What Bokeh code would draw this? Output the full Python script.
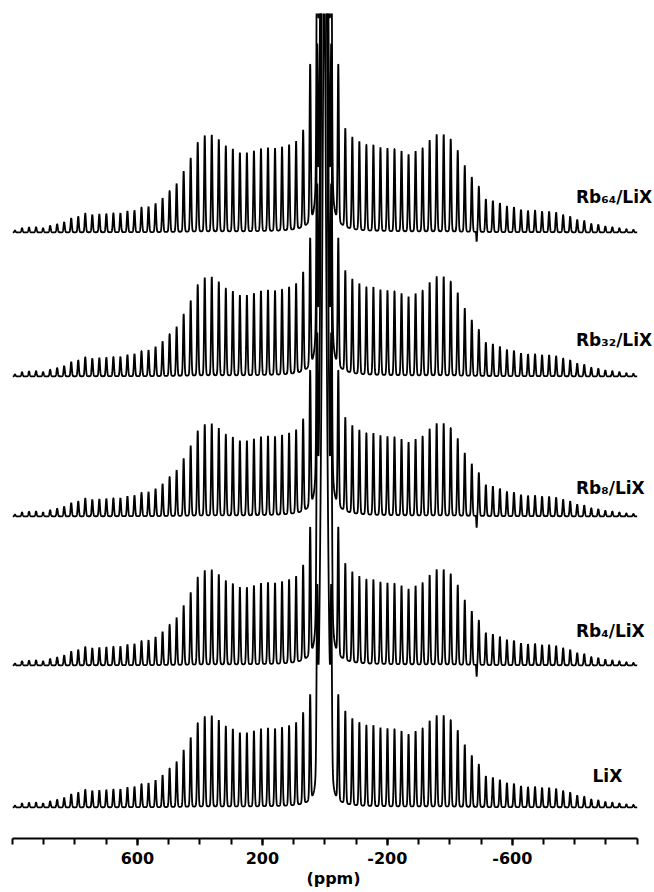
import numpy as np
from bokeh.plotting import figure
from bokeh.models import Range1d, FixedTicker, Label
from bokeh.embed import file_html
from bokeh.resources import INLINE

# ---------------- data ----------------
SAMPLES = ["LiX", "Rb₄/LiX", "Rb₈/LiX", "Rb₃₂/LiX", "Rb₆₄/LiX"]

# sideband spacing (ppm) and isotropic (central) shift
SIDEBAND_SPACING = 22.5
CENTER_SHIFT = 2.0

# sideband envelope heights, n = +3 ... +44 (left, positive ppm side)
ENV_POS = [97.7, 88.3, 86.0, 84.3, 83.3, 84.0, 83.3, 81.0, 79.3, 79.3,
           83.3, 86.3, 92.7, 97.3, 96.7, 90.0, 74.3, 61.0, 48.7, 41.7,
           34.3, 29.0, 25.7, 25.0, 22.0, 21.3, 19.3, 19.3, 18.7, 18.3,
           17.7, 19.0, 16.0, 14.3, 10.3, 8.3, 6.7, 4.3, 5.3, 5.0,
           4.3, 2.0]
# sideband envelope heights, n = -3 ... -44 (right, negative ppm side)
ENV_NEG = [99.3, 92.7, 89.3, 86.7, 86.7, 84.3, 83.7, 83.3, 81.0, 77.7,
           81.0, 84.3, 92.0, 97.7, 97.7, 93.3, 82.0, 66.7, 55.3, 46.0,
           33.3, 31.7, 29.3, 26.0, 25.3, 22.7, 21.7, 22.0, 21.0, 21.0,
           20.0, 17.7, 16.0, 12.7, 11.7, 8.7, 7.7, 6.0, 5.3, 4.3,
           3.3, 2.7]

ENV_SCALE = [0.94, 0.98, 0.95, 1.02, 1.00]
SB2_HEIGHT = [106, 128, 136, 128, 158]
SB1_HEIGHT = [160, 240, 240, 240, 280]
CENTER_HEIGHT = [450, 650, 650, 650, 650]
SKIRT_HEIGHT = [400, 600, 600, 600, 600]
GLITCH_PPM = -486.0
GLITCH_DEPTH = [0, 12, 12, 0, 10]

TICK_LABELS = [600, 200, -200, -600]
MINOR_TICKS = list(range(-1000, 1001, 100))

# ---------------- layout constants ----------------
STACK_OFFSETS = [31, 173, 322, 462, 606]
LABEL_X = [-857, -804, -804, -804, -804]
LABEL_Y = [63, 208, 351, 499, 642]

SB_SIGMA = 2.0       # gaussian part of sideband line (ppm)
SB_GAMMA = 2.0       # lorentzian part of sideband line (ppm)
SB_LFRAC = 0.15
CENTER_SIGMA = 10.0
SKIRT_GAMMA = 6.0
GLITCH_SIGMA = 1.0

ppm = np.arange(1000.0, -1000.0 - 0.01, -0.4)


def gau(x, x0, s):
    return np.exp(-0.5 * ((x - x0) / s) ** 2)


def lor(x, x0, g):
    return g * g / ((x - x0) ** 2 + g * g)


def line_shape(x, x0):
    return (1 - SB_LFRAC) * gau(x, x0, SB_SIGMA) + SB_LFRAC * lor(x, x0, SB_GAMMA)


def build(i):
    y = CENTER_HEIGHT[i] * gau(ppm, CENTER_SHIFT, CENTER_SIGMA)
    y = y + SKIRT_HEIGHT[i] * lor(ppm, CENTER_SHIFT, SKIRT_GAMMA)
    for n in (1, -1):
        y = y + SB1_HEIGHT[i] * line_shape(ppm, CENTER_SHIFT + n * SIDEBAND_SPACING)
    for n in (2, -2):
        y = y + SB2_HEIGHT[i] * line_shape(ppm, CENTER_SHIFT + n * SIDEBAND_SPACING)
    for k, h in enumerate(ENV_POS):
        n = k + 3
        y = y + ENV_SCALE[i] * h * line_shape(ppm, CENTER_SHIFT + n * SIDEBAND_SPACING)
    for k, h in enumerate(ENV_NEG):
        n = -(k + 3)
        y = y + ENV_SCALE[i] * h * line_shape(ppm, CENTER_SHIFT + n * SIDEBAND_SPACING)
    if GLITCH_DEPTH[i]:
        y = y - GLITCH_DEPTH[i] * gau(ppm, GLITCH_PPM, GLITCH_SIGMA)
    return y + STACK_OFFSETS[i]


p = figure(width=654, height=892, output_backend="svg", toolbar_location=None,
           x_range=Range1d(1000, -1055.4), y_range=Range1d(0, 825),
           y_axis_location=None,
           min_border_left=12, min_border_right=0, min_border_top=13,
           min_border_bottom=54)
p.grid.visible = False
p.outline_line_color = None
p.background_fill_color = "white"
p.border_fill_color = "white"

for i in range(len(SAMPLES)):
    p.line(ppm, build(i), line_color="black", line_width=1.8)
    p.add_layout(Label(x=LABEL_X[i], y=LABEL_Y[i], text=SAMPLES[i],
                       text_font="DejaVu Sans", text_font_style="bold",
                       text_font_size="17px", text_color="black",
                       text_align="left", text_baseline="alphabetic"))

ax = p.xaxis[0]
ax.bounds = (-1000, 1000)
ax.ticker = FixedTicker(ticks=TICK_LABELS, minor_ticks=MINOR_TICKS)
ax.major_label_overrides = {v: str(v) for v in TICK_LABELS}
ax.axis_line_width = 2
ax.axis_line_color = "black"
ax.major_tick_line_width = 2
ax.minor_tick_line_width = 2
ax.major_tick_in = 0
ax.major_tick_out = 7
ax.minor_tick_in = 0
ax.minor_tick_out = 6
ax.major_label_text_font = "DejaVu Sans"
ax.major_label_text_font_style = "bold"
ax.major_label_text_font_size = "16px"
ax.major_label_text_color = "black"
ax.major_label_standoff = 6
ax.axis_label = "(ppm)"
ax.axis_label_text_font = "DejaVu Sans"
ax.axis_label_text_font_style = "bold"
ax.axis_label_text_font_size = "16px"
ax.axis_label_text_color = "black"
ax.axis_label_standoff = 2

open("out.html", "w").write(file_html(p, INLINE))
